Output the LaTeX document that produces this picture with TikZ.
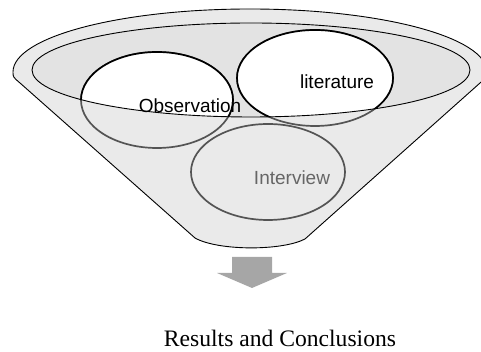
\documentclass[tikz,border=0pt]{standalone}
\usepackage{fontspec}
\setmainfont{Liberation Serif}
\newfontfamily\arialfont{Liberation Sans}
\definecolor{bodygray}{HTML}{EAEAEA}
\definecolor{innergray}{HTML}{E3E3E3}
\definecolor{rimgray}{HTML}{545454}
\definecolor{arrowgray}{HTML}{A6A6A6}
\definecolor{txtgray}{HTML}{666666}
\tikzset{
  lbl/.style={font=\arialfont\fontsize{19}{22}\selectfont, inner sep=0pt, anchor=base},
  ringlow/.style={fill=bodygray, draw=rimgray, line width=1.7pt},
  ringhigh/.style={fill=white, draw=black, line width=1.7pt},
}
\begin{document}
\begin{tikzpicture}[x=1pt,y=1pt]
\useasboundingbox (0,0) rectangle (481,352);
% funnel body
\draw[fill=bodygray, line width=0.9pt, line join=round]
  (195,114) -- (20,269) .. controls (13,275) .. (13,280)
  arc[start angle=180, end angle=0, x radius=237pt, y radius=63pt]
  .. controls (487,275) .. (480,269) -- (305,113)
  .. controls (282,101) and (218,101) .. cycle;
% inner rim
\fill[innergray] (251,282) ellipse[x radius=219pt, y radius=47pt];
% circles, lower (body) parts
\path[ringlow] (157,252) ellipse[x radius=76pt, y radius=48pt];
\path[ringlow] (315,274) ellipse[x radius=78pt, y radius=48pt];
\path[ringlow] (268,180) ellipse[x radius=77pt, y radius=48pt];
% circles, upper parts inside the rim
\begin{scope}
  \clip (251,282) ellipse[x radius=219pt, y radius=47pt];
  \path[ringhigh] (157,252) ellipse[x radius=76pt, y radius=48pt];
  \path[ringhigh] (315,274) ellipse[x radius=78pt, y radius=48pt];
\end{scope}
\draw[line width=0.9pt] (251,282) ellipse[x radius=219pt, y radius=47pt];
% labels
\node[lbl] (obs) at (190,239) {Observation};
\node[lbl] (lit) at (337,263) {literature};
\node[lbl, text=txtgray] (int) at (292,167) {Interview};
% arrow
\fill[arrowgray] (232,95) -- (272,95) -- (272,79) -- (287,79) -- (252,64)
  -- (217,79) -- (232,79) -- cycle;
\node[font=\fontsize{23.6}{28}\selectfont, inner sep=0pt, anchor=base] (res) at (280,5) {Results and Conclusions};
\end{tikzpicture}
\end{document}
